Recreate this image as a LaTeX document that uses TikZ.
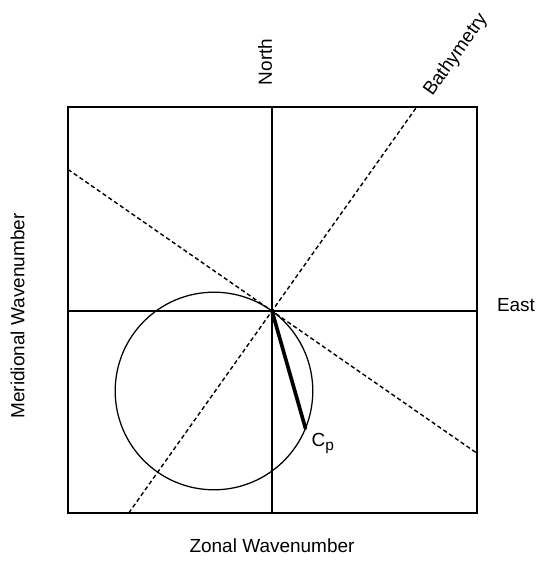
\documentclass[tikz,border=0pt]{standalone}
\usepackage{fontspec}
\setmainfont{Liberation Sans}
\usetikzlibrary{calc}
\tikzset{
  frame line/.style={line width=1.1pt},
  crest line/.style={line width=1pt,dash pattern=on 3pt off 2pt},
  circle line/.style={line width=0.9pt},
  phase line/.style={line width=2.6pt,line cap=round},
  axis label/.style={inner sep=1pt}
}
\newcommand\subp{\raisebox{-0.4ex}{\fontsize{11}{12}\selectfont p}}

\begin{document}
\begin{tikzpicture}[font=\fontsize{13.5}{16}\selectfont]
  \def\xl{-5.1}                 % left edge
  \def\xr{5.125}                % right edge
  \def\yt{5.1}                  % top edge
  \def\yb{-5.05}                % bottom edge
  \def\r{2.47}                  % circle radius
  \def\sb{1.41}                 % slope bathymetry
  \def\sc{-0.694}               % slope crests
  \useasboundingbox (-6.8,-6.275) rectangle (6.65,7.775);
  \coordinate (O)   at (0,0);
  \coordinate (BL)  at (\xl,\yb);
  \coordinate (TR)  at (\xr,\yt);
  \coordinate (N)   at (0,\yt);
  \coordinate (S)   at (0,\yb);
  \coordinate (W)   at (\xl,0);
  \coordinate (E)   at (\xr,0);
  \coordinate (DL)  at (\xl,{\sc*\xl});
  \coordinate (DR)  at (\xr,{\sc*\xr});
  \coordinate (BT)  at ({\yt/\sb},\yt);
  \coordinate (BB)  at ({\yb/\sb},\yb);
  \coordinate (C)   at (-1.45,-2.0);
  \coordinate (CP)  at ($(C)+(-22.2:\r)$);

  % FRAME
  \draw[frame line] (BL) rectangle (TR);
  \draw[frame line] (N) -- (S);
  \draw[frame line] (W) -- (E);

  % LINES
  \draw[crest line] (DL) -- (DR);
  \draw[crest line] (BB) -- (BT);
  \draw[circle line] (C) circle (\r);
  \draw[phase line] (O) -- (CP);

  % LABELS
  \node[axis label,rotate=90]   (north) at (-0.175,6.225) {North};
  \node[axis label,rotate=54.7] (bathy) at (4.6,6.4)      {Bathymetry};
  \node[axis label]             (east)  at (6.1,0.15)     {East};
  \node[axis label,rotate=90]   (merid) at (-6.36,-0.125) {Meridional Wavenumber};
  \node[axis label]             (zonal) at (0,-5.875)     {Zonal Wavenumber};
  \node[axis label]             (cp)    at (1.27,-3.3)    {C\subp};

\end{tikzpicture}
\end{document}
